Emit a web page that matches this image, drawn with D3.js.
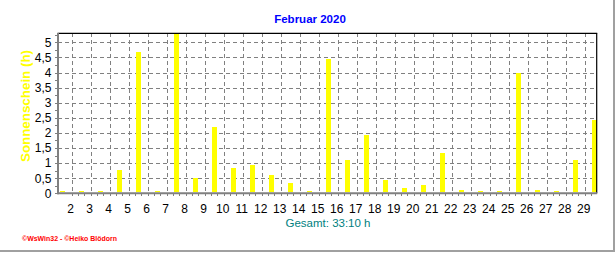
<!DOCTYPE html>
<html><head><meta charset="utf-8">
<script src="https://cdn.jsdelivr.net/npm/d3@7"></script>
<style>html,body{margin:0;padding:0;background:#fff;}svg{display:block;font-family:Arial,"Liberation Sans",sans-serif;}</style>
</head><body>
<script>
const title = "Februar 2020";
const yTitle = "Sonnenschein (h)";
const totalLabel = "Gesamt: 33:10 h";
const footer = "©WsWin32 - ©Heiko Blödorn";
const days = [1,2,3,4,5,6,7,8,9,10,11,12,13,14,15,16,17,18,19,20,21,22,23,24,25,26,27,28,29];
const sunshine = [0,0,0,0.78,4.69,0,5.3,0.52,2.2,0.85,0.94,0.61,0.34,0,4.45,1.11,1.93,0.45,0.19,0.28,1.33,0.12,0,0,3.97,0.12,0,1.11,2.44];
const xTickLabels = [2,3,4,5,6,7,8,9,10,11,12,13,14,15,16,17,18,19,20,21,22,23,24,25,26,27,28,29];
const yTicks = [0,0.5,1,1.5,2,2.5,3,3.5,4,4.5,5];

const W = 616, H = 253;
const L = 58.3, R = 596.7, T = 33.3, B = 193.3;
const svg = d3.select("body").append("svg").attr("width", W).attr("height", H);
svg.append("rect").attr("width", W).attr("height", H).attr("fill", "#fff");

const x = d3.scaleLinear().domain([1.295, 29.63]).range([L, R]);
const y = d3.scaleLinear().domain([0, 5.3]).range([B, T]);

// grid
const grid = svg.append("g").attr("stroke", "#808080").attr("stroke-width", 1).attr("stroke-dasharray", "4,3").attr("shape-rendering", "crispEdges");
grid.selectAll("line.h").data(yTicks.filter(d => d > 0)).join("line")
  .attr("x1", L).attr("x2", R).attr("y1", d => Math.round(y(d)) + 0.5).attr("y2", d => Math.round(y(d)) + 0.5);
grid.selectAll("line.v").data(xTickLabels).join("line")
  .attr("y1", T).attr("y2", B).attr("x1", d => Math.round(x(d)) + 0.5).attr("x2", d => Math.round(x(d)) + 0.5);

// bars
const bw = 5;
svg.append("g").selectAll("rect").data(days).join("rect")
  .attr("fill", "#ffff00").attr("shape-rendering", "crispEdges")
  .attr("x", (d) => x(d + 0.5) - bw / 2)
  .attr("width", bw)
  .attr("y", (d, i) => Math.min(y(Math.min(sunshine[i], 5.3)), B - 2))
  .attr("height", (d, i) => Math.max(B - 1 - y(Math.min(sunshine[i], 5.3)), 1));

// minor x ticks (3 per day)
const minor = d3.range(2, 29.7, 1 / 3).filter(t => x(t) <= R);
svg.append("g").attr("stroke", "#808080").attr("shape-rendering", "crispEdges")
  .selectAll("line").data(minor).join("line")
  .attr("x1", d => Math.round(x(d)) + 0.5).attr("x2", d => Math.round(x(d)) + 0.5)
  .attr("y1", B).attr("y2", B + 3);
// minor y ticks
const yMinor = d3.range(0, 5.31, 0.25);
svg.append("g").attr("stroke", "#808080").attr("shape-rendering", "crispEdges")
  .selectAll("line").data(yMinor).join("line")
  .attr("x1", L - 3).attr("x2", L)
  .attr("y1", d => Math.round(y(d)) + 0.5).attr("y2", d => Math.round(y(d)) + 0.5);

// borders
svg.append("line").attr("x1", L).attr("x2", R + 0.5).attr("y1", T).attr("y2", T).attr("stroke", "#000").attr("stroke-width", 1.2);
svg.append("line").attr("x1", R).attr("x2", R).attr("y1", T).attr("y2", B).attr("stroke", "#000").attr("stroke-width", 1.2);
svg.append("line").attr("x1", L - 0.3).attr("x2", L - 0.3).attr("y1", T - 0.5).attr("y2", B + 1).attr("stroke", "#808080").attr("stroke-width", 2);
svg.append("line").attr("x1", L - 1).attr("x2", R + 0.5).attr("y1", B).attr("y2", B).attr("stroke", "#808080").attr("stroke-width", 2);

// y labels
svg.append("g").selectAll("text").data(yTicks).join("text")
  .attr("x", 51.5).attr("y", d => y(d)).attr("dy", "0.36em")
  .attr("text-anchor", "end").attr("font-size", 12).attr("fill", "#000")
  .text(d => String(d).replace(".", ","));
// x labels
svg.append("g").selectAll("text").data(xTickLabels).join("text")
  .attr("x", d => x(d) - 1).attr("y", 212.5)
  .attr("text-anchor", "middle").attr("font-size", 12).attr("fill", "#000")
  .text(d => d);

// titles
svg.append("text").attr("x", 310).attr("y", 22.7).attr("text-anchor", "middle")
  .attr("font-size", 11.5).attr("font-weight", "bold").attr("fill", "#0000ff").text(title);
svg.append("text").attr("transform", "translate(30,106) rotate(-90)").attr("text-anchor", "middle")
  .attr("font-size", 12).attr("font-weight", "bold").attr("fill", "#ffff00")
  .attr("textLength", 112).attr("lengthAdjust", "spacingAndGlyphs").text(yTitle);
svg.append("text").attr("x", 328).attr("y", 226.7).attr("text-anchor", "middle")
  .attr("font-size", 11.5).attr("fill", "#008080").text(totalLabel);
svg.append("text").attr("x", 22).attr("y", 241).attr("font-size", 7.5).attr("font-weight", "bold")
  .attr("fill", "#ff0000").attr("textLength", 95).attr("lengthAdjust", "spacingAndGlyphs").text(footer);

// outer frame
svg.append("line").attr("x1", 614).attr("x2", 614).attr("y1", 0).attr("y2", 252).attr("stroke", "#a0a0a0").attr("stroke-width", 2);
svg.append("line").attr("x1", 0).attr("x2", 615).attr("y1", 251).attr("y2", 251).attr("stroke", "#a0a0a0").attr("stroke-width", 2);
</script>
</body></html>
